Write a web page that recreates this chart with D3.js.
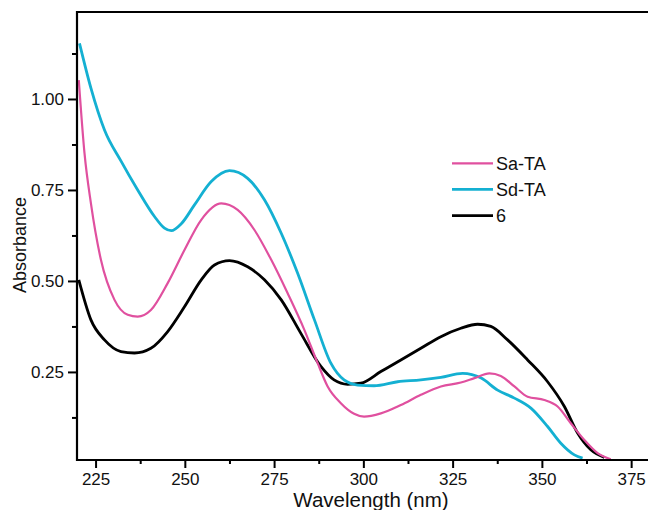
<!DOCTYPE html>
<html>
<head>
<meta charset="utf-8">
<script src="https://cdn.jsdelivr.net/npm/d3@7"></script>
<style>
  html, body { margin: 0; padding: 0; background: #fff; }
  svg { display: block; }
  text { font-family: "Liberation Sans", Arial, Helvetica, sans-serif; fill: #111; }
</style>
</head>
<body>
<svg id="chart" width="648" height="510"></svg>
<script>
// ---- data ----
const seriesNames = ["Sa-TA", "Sd-TA", "6"];
const seriesColors = ["#e0509f", "#14b0d2", "#000000"];

const saWave = [220.3, 221.9, 223.7, 226.5, 230.3, 234, 236.8, 240.5, 245.2, 249.9, 254.6, 260.2, 264.8, 269.5, 274.2, 278.8, 283.5, 287.2, 290, 293.7, 297.4, 300.2, 304.9, 310.5, 316.1, 321.7, 327.3, 331.1, 335.3, 338.5, 342.3, 346, 350.7, 354.4, 358.1, 361.9, 365.6, 369.3];
const saAbs  = [1.052, 0.851, 0.713, 0.558, 0.448, 0.407, 0.402, 0.42, 0.494, 0.585, 0.668, 0.713, 0.695, 0.64, 0.558, 0.466, 0.365, 0.274, 0.21, 0.164, 0.135, 0.127, 0.136, 0.159, 0.187, 0.21, 0.221, 0.233, 0.246, 0.239, 0.21, 0.182, 0.173, 0.155, 0.109, 0.063, 0.027, 0.010];

const sdWave = [220.5, 223.7, 227.5, 232.1, 236.8, 241.5, 244.3, 246.2, 249, 252.7, 257.4, 262.5, 267.6, 272.3, 277, 281.6, 286.3, 290.9, 294.6, 298.4, 303, 309.6, 316.1, 321.7, 327.8, 333, 337.6, 342.3, 347, 351.6, 355.3, 359.1, 361.4];
const sdAbs  = [1.153, 1.030, 0.915, 0.830, 0.75, 0.677, 0.645, 0.638, 0.657, 0.709, 0.773, 0.803, 0.782, 0.723, 0.631, 0.521, 0.393, 0.274, 0.228, 0.214, 0.212, 0.223, 0.228, 0.235, 0.246, 0.233, 0.2, 0.178, 0.15, 0.1, 0.054, 0.022, 0.013];

const c6Wave = [220.3, 223.7, 227.5, 232.1, 235.9, 240.5, 245.2, 249.9, 254.6, 258.3, 262.5, 267.6, 272.3, 277, 282.5, 288.1, 291.8, 295.6, 299.3, 304.9, 310.5, 316.1, 321.7, 327.3, 332, 335.7, 340.4, 346, 351.6, 356.3, 360, 363.7, 367.5];
const c6Abs  = [0.503, 0.393, 0.338, 0.306, 0.302, 0.315, 0.361, 0.429, 0.503, 0.544, 0.556, 0.539, 0.503, 0.448, 0.356, 0.265, 0.228, 0.216, 0.219, 0.251, 0.283, 0.315, 0.347, 0.37, 0.381, 0.375, 0.338, 0.283, 0.223, 0.155, 0.082, 0.036, 0.015];

const xTicks = [225, 250, 275, 300, 325, 350, 375];
const xMinorTicks = [237.5, 262.5, 287.5, 312.5, 337.5, 362.5];
const yTicks = [0.25, 0.50, 0.75, 1.00];
const yMinorTicks = [0.125, 0.375, 0.625, 0.875, 1.125];
const xTitle = "Wavelength (nm)";
const yTitle = "Absorbance";

// ---- layout ----
const svg = d3.select("#chart");
const mLeft = 77, mRight = 649, mTop = 12, mBottom = 460;

const x = d3.scaleLinear().domain([219.8, 380]).range([mLeft, mRight]);
const y = d3.scaleLinear().domain([0.008, 1.239]).range([mBottom, mTop]);

const datasets = [
  saWave.map((w, i) => [w, saAbs[i]]),
  sdWave.map((w, i) => [w, sdAbs[i]]),
  c6Wave.map((w, i) => [w, c6Abs[i]])
];
const widths = [2.2, 2.8, 2.8];

svg.append("clipPath").attr("id", "clip")
  .append("rect").attr("x", mLeft).attr("y", mTop).attr("width", mRight - mLeft).attr("height", mBottom - mTop);

const line = d3.line()
  .x(d => x(d[0])).y(d => y(d[1]))
  .curve(d3.curveMonotoneX);

const g = svg.append("g").attr("clip-path", "url(#clip)");
[2, 1, 0].forEach(i => {
  g.append("path")
    .datum(datasets[i])
    .attr("fill", "none")
    .attr("stroke", seriesColors[i])
    .attr("stroke-width", widths[i])
    .attr("stroke-linejoin", "round")
    .attr("d", line);
});

// axes
const xAxis = svg.append("g").attr("transform", `translate(0,${mBottom})`)
  .call(d3.axisBottom(x).tickValues(xTicks).tickSize(8).tickPadding(5).tickFormat(d3.format("d")));
const xMinor = svg.append("g").attr("transform", `translate(0,${mBottom})`)
  .call(d3.axisBottom(x).tickValues(xMinorTicks).tickSize(4).tickFormat(""));
const yAxis = svg.append("g").attr("transform", `translate(${mLeft},0)`)
  .call(d3.axisLeft(y).tickValues(yTicks).tickSize(9).tickPadding(4).tickFormat(d3.format(".2f")));
const yMinor = svg.append("g").attr("transform", `translate(${mLeft},0)`)
  .call(d3.axisLeft(y).tickValues(yMinorTicks).tickSize(5).tickFormat(""));

[xAxis, xMinor, yAxis, yMinor].forEach(a => {
  a.select(".domain").remove();
  a.selectAll(".tick line").attr("stroke", "#000").attr("stroke-width", 2);
});
[xAxis, yAxis].forEach(a => {
  a.selectAll(".tick text")
    .style("font-family", "'Liberation Sans', Arial, sans-serif")
    .style("font-size", "17px").attr("fill", "#222");
});

// frame lines (left, bottom, top)
svg.append("line").attr("x1", mLeft).attr("x2", mRight).attr("y1", mBottom).attr("y2", mBottom)
  .attr("stroke", "#000").attr("stroke-width", 2.2);
svg.append("line").attr("x1", mLeft).attr("x2", mLeft).attr("y1", mTop - 1).attr("y2", mBottom + 1)
  .attr("stroke", "#000").attr("stroke-width", 2.2);
svg.append("line").attr("x1", mLeft).attr("x2", mRight).attr("y1", mTop).attr("y2", mTop)
  .attr("stroke", "#000").attr("stroke-width", 2);

// titles
svg.append("text")
  .attr("x", 371).attr("y", 507)
  .attr("text-anchor", "middle")
  .style("font-size", "20.5px")
  .text(xTitle);
svg.append("text")
  .attr("transform", "translate(26,245) rotate(-90)")
  .attr("text-anchor", "middle")
  .style("font-size", "18px")
  .text(yTitle);

// legend
const legY = [163.3, 189.3, 215.7];
seriesNames.forEach((name, i) => {
  svg.append("line")
    .attr("x1", 452).attr("x2", 493)
    .attr("y1", legY[i]).attr("y2", legY[i])
    .attr("stroke", seriesColors[i]).attr("stroke-width", widths[i]);
  svg.append("text")
    .attr("x", 496).attr("y", legY[i] + 6.3)
    .style("font-size", "18px")
    .text(name);
});
</script>
</body>
</html>
